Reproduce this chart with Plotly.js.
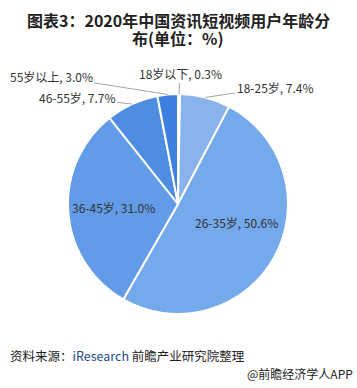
<!DOCTYPE html>
<html>
<head>
<meta charset="utf-8">
<script src="https://cdn.plot.ly/plotly-3.0.1.min.js"></script>
<style>html,body{margin:0;padding:0;background:#fff;}#chart{width:357px;height:388px;}</style>
</head>
<body>
<div id="chart"></div>
<script>
// ---- data ----
const categories = ['18岁以下', '18-25岁', '26-35岁', '36-45岁', '46-55岁', '55岁以上'];
const shares = [0.3, 7.4, 50.6, 31.0, 7.7, 3.0];
const titleLines = ['图表3：2020年中国资讯短视频用户年龄分', '布(单位：%)'];
const sourceText = '资料来源：<span style="color:#1f4a8a">iResearch</span> 前瞻产业研究院整理';
const creditText = '@前瞻经济学人APP';

// ---- styling / layout ----
const W = 357, H = 388;
const cx = 178, cy = 204, R = 110;
const colors = ['#b4cff4', '#8ab3ee', '#74a9ec', '#629ce8', '#4f8de3', '#3d80e0'];
// label style: [outside?, text center px x, px y]
const labelPos = [
  {out: true, tx: 180, ty: 73},
  {out: true, tx: 275, ty: 87},
  {out: false, tx: 236, ty: 223},
  {out: false, tx: 114, ty: 207},
  {out: true, tx: 77, ty: 98},
  {out: true, tx: 51, ty: 76}
];
const titleY = [20, 38];
const labelFont = {family: 'Noto Sans CJK SC', size: 12, color: '#333333'};

const total = shares.reduce((a, b) => a + b, 0);
const annotations = [];
let cum = 0;
categories.forEach((c, i) => {
  const mid = (cum + shares[i] / 2) / total * 2 * Math.PI;
  cum += shares[i];
  const txt = c + ', ' + shares[i].toFixed(1) + '%';
  const lp = labelPos[i];
  if (lp.out) {
    const px = cx + R * Math.sin(mid), py = cy - R * Math.cos(mid);
    annotations.push({
      x: px / W, y: 1 - py / H, xref: 'paper', yref: 'paper',
      ax: lp.tx - px, ay: lp.ty - py, axref: 'pixel', ayref: 'pixel',
      xanchor: 'center', yanchor: 'middle',
      text: txt, showarrow: true, arrowhead: 0, arrowwidth: 1, arrowcolor: '#a6a6a6',
      standoff: 0, startstandoff: 0, font: labelFont
    });
  } else {
    annotations.push({
      x: lp.tx / W, y: 1 - lp.ty / H, xref: 'paper', yref: 'paper',
      xanchor: 'center', yanchor: 'middle',
      text: txt, showarrow: false, font: labelFont
    });
  }
});
titleLines.forEach((t, i) => {
  annotations.push({
    x: 178 / W, y: 1 - titleY[i] / H, xref: 'paper', yref: 'paper', xanchor: 'center', yanchor: 'middle',
    text: '<b>' + t + '</b>', showarrow: false,
    font: {family: 'Noto Sans CJK SC', size: 16, color: '#222222'}
  });
});
annotations.push({
  x: 8 / W, y: 1 - 355 / H, xref: 'paper', yref: 'paper', xanchor: 'left', yanchor: 'middle',
  text: sourceText, showarrow: false,
  font: {family: 'Noto Sans CJK SC', size: 12.5, color: '#222222'}
});
annotations.push({
  x: 355 / W, y: 1 - 373 / H, xref: 'paper', yref: 'paper', xanchor: 'right', yanchor: 'middle',
  text: creditText, showarrow: false,
  font: {family: 'Noto Sans CJK SC', size: 12, color: '#222222'}
});

const trace = {
  type: 'pie',
  labels: categories,
  values: shares,
  sort: false,
  direction: 'clockwise',
  rotation: 0,
  textinfo: 'none',
  hoverinfo: 'label+value',
  marker: {colors: colors, line: {color: '#ffffff', width: 2}},
  domain: {x: [(cx - R) / W, (cx + R) / W], y: [1 - (cy + R) / H, 1 - (cy - R) / H]},
  showlegend: false
};

const layout = {
  width: W, height: H,
  margin: {l: 0, r: 0, t: 0, b: 0},
  paper_bgcolor: '#ffffff',
  annotations: annotations,
  showlegend: false
};

Plotly.newPlot('chart', [trace], layout, {displayModeBar: false, staticPlot: true});
</script>
</body>
</html>
